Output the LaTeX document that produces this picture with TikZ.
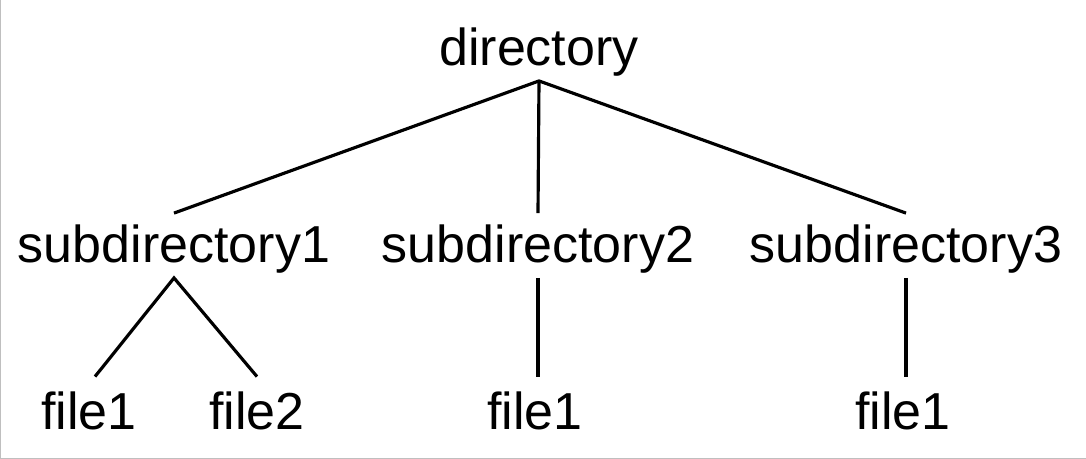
\documentclass[tikz,border=0pt]{standalone}
\usepackage{fontspec}
\setmainfont{Liberation Sans}

\tikzset{
  namebox/.style={anchor=base, inner sep=0pt, outer sep=0pt, text height=28.4pt, text depth=8.5pt,
    font=\fontsize{29.6}{35}\selectfont},
  leafbox/.style={namebox, text height=30.4pt},
  branch/.style={line width=1.8pt}
}

\begin{document}
\begin{tikzpicture}[x=0.02cm, y=-0.02cm]
\useasboundingbox (0,0) rectangle (1086,459);
\draw[gray!50, line width=1pt] (0.5,0) -- (0.5,458.5) -- (1086,458.5);

\node[namebox] (dir) at (539,66) {directory};
\node[namebox] (sub1) at (174,263) {subdirectory1};
\node[namebox] (sub2) at (538,263) {subdirectory2};
\node[namebox] (sub3) at (906,263) {subdirectory3};
\node[leafbox] (f11) at (89,430) {file1};
\node[leafbox] (f12) at (257,430) {file2};
\node[leafbox] (f21) at (535,430) {file1};
\node[leafbox] (f31) at (903,430) {file1};

\draw[branch] (sub1.north) -- (dir.south) -- (sub3.north);
\draw[branch] (dir.south) -- (sub2.north);
\draw[branch] ([xshift=0.12cm]f11.north) -- (sub1.south) -- (f12.north);
\draw[branch] (sub2.south) -- (sub2.south |- f21.north);
\draw[branch] (sub3.south) -- (sub3.south |- f31.north);
\end{tikzpicture}
\end{document}
